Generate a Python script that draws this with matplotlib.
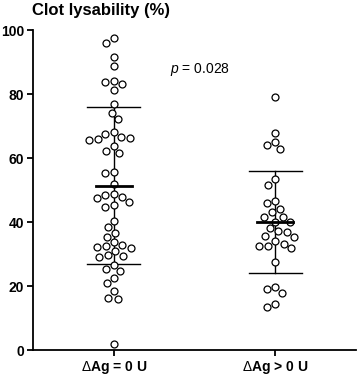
import numpy as np
import matplotlib
matplotlib.use("Agg")
import matplotlib.pyplot as plt

# ---- data ----
categories = [r"$\Delta$Ag = 0 U", r"$\Delta$Ag > 0 U"]
group0 = [97.4, 96.0, 91.7, 88.75, 83.75, 84.2, 83.1, 81.1, 76.8, 74.1, 72.1,
          68.0, 66.5, 65.9, 65.5, 66.4, 67.6, 63.6, 61.5, 62.2, 55.7, 55.2, 51.9,
          48.6, 47.9, 47.6, 48.4, 46.25, 44.6, 45.3, 40.4, 38.3, 36.5, 35.4,
          32.8, 32.3, 32.0, 32.5, 33.6, 30.9, 29.6, 29.0, 29.3, 26.5, 25.2, 24.7,
          22.6, 20.8, 18.4, 16.35, 16.0, 1.9]
group1 = [79.2, 67.9, 64.1, 65.1, 62.8, 53.4, 51.7, 46.6, 46.0, 44.2, 43.0,
          41.7, 41.7, 40.1, 40.1, 38.0, 36.8, 37.2, 35.2, 35.7, 33.1, 32.6, 31.9,
          32.5, 34.0, 27.6, 19.2, 17.9, 19.8, 13.3, 14.5]
means = [51.3, 40.1]
sds = [24.5, 15.9]
yticks = [0, 20, 40, 60, 80, 100]
title = "Clot lysability (%)"
pvalue_text = "0.028"

plt.rcParams['font.family'] = ['Liberation Sans', 'DejaVu Sans']
plt.rcParams['mathtext.fontset'] = 'custom'
plt.rcParams['mathtext.rm'] = 'Liberation Sans'
plt.rcParams['mathtext.it'] = 'Liberation Sans:italic'
plt.rcParams['mathtext.bf'] = 'Liberation Sans:bold'

W, H = 358, 377
fig = plt.figure(figsize=(W / 100, H / 100), dpi=100)
ax = fig.add_axes([33 / W, 27 / H, 323 / W, 320 / H])
ax.set_xlim(-0.5, 1.5)
ax.set_ylim(0, 100)

# swarm layout in pixel space
ax_w_px = 323.0
ax_h_px = 320.0
px_per_x = ax_w_px / 2.0
px_per_y = ax_h_px / 100.0
diam = 8.8


def swarm(values):
    vals = np.asarray(values, float)
    order = np.argsort(-vals)
    placed = []
    xs = np.zeros(len(vals))
    for i in order:
        y = vals[i] * px_per_y
        cands = [0.0]
        for (px, py) in placed:
            dy = abs(py - y)
            if dy < diam:
                dx = np.sqrt(diam ** 2 - dy ** 2)
                cands += [px + dx, px - dx]
        cands = sorted(cands, key=lambda c: (abs(c), c))
        for c in cands:
            ok = True
            for (px, py) in placed:
                if (px - c) ** 2 + (py - y) ** 2 < diam ** 2 - 1e-6:
                    ok = False
                    break
            if ok:
                xs[i] = c
                placed.append((c, y))
                break
    return xs / px_per_x


for k, vals in enumerate([group0, group1]):
    offs = swarm(vals)
    ax.plot(k + offs, vals, 'o', ms=5.0, mfc='white', mec='black', mew=0.9,
            zorder=3, clip_on=False)
    m, s = means[k], sds[k]
    ax.plot([k, k], [m - s, m + s], color='black', lw=1.0, zorder=2)
    ax.plot([k - 0.164, k + 0.164], [m + s, m + s], color='black', lw=1.0, zorder=2)
    ax.plot([k - 0.164, k + 0.164], [m - s, m - s], color='black', lw=1.0, zorder=2)
    ax.plot([k - 0.11, k + 0.11], [m, m], color='black', lw=2.0, zorder=4)

ax.text(0.348, 87.8, "$p$ = " + pvalue_text, fontsize=10, va='center', ha='left')

ax.set_xticks([0, 1])
ax.set_xticklabels(categories, fontsize=10, fontweight='bold')
ax.set_yticks(yticks)
ax.set_yticklabels([str(t) for t in yticks], fontsize=10, fontweight='bold')
for sp in ['top', 'right']:
    ax.spines[sp].set_visible(False)
for sp in ['left', 'bottom']:
    ax.spines[sp].set_linewidth(1.3)
ax.tick_params(axis='both', direction='out', length=4.5, width=1.3, pad=2)

fig.text(32 / W, 1 - 11 / H, title, fontsize=12, fontweight='bold', va='center', ha='left')

fig.savefig("out.png", dpi=100)
